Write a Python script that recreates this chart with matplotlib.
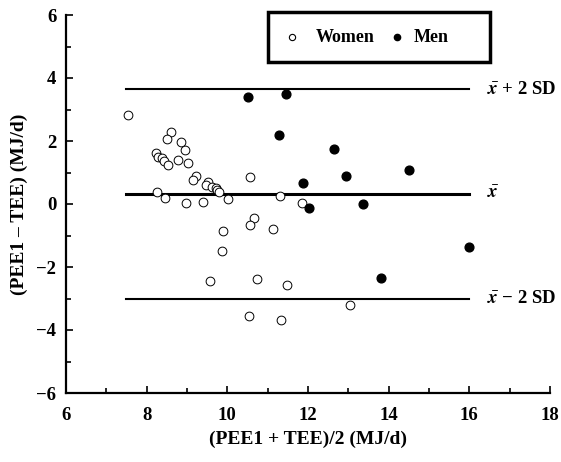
import numpy as np
import matplotlib
matplotlib.use("Agg")
import matplotlib.pyplot as plt
from matplotlib.patches import Rectangle

plt.rcParams['font.family'] = ['Liberation Serif', 'DejaVu Serif']
plt.rcParams['font.weight'] = 'bold'
plt.rcParams['axes.labelweight'] = 'bold'
plt.rcParams['mathtext.fontset'] = 'stix'

# women (open circles)
women_x = [7.53, 8.61, 8.50, 8.86, 8.96, 8.23, 8.28, 8.37, 8.44, 8.53, 8.77, 9.03,
           9.22, 9.16, 9.53, 9.48, 9.61, 9.71, 9.75, 9.79, 10.56, 8.26, 8.46, 8.97,
           9.39, 10.02, 11.31, 11.85, 10.66, 10.55, 11.12, 9.90, 9.86, 9.56, 10.74,
           11.49, 10.53, 11.32, 13.05]
women_y = [2.83, 2.30, 2.07, 1.96, 1.72, 1.61, 1.50, 1.45, 1.37, 1.24, 1.40, 1.29,
           0.90, 0.76, 0.71, 0.60, 0.55, 0.52, 0.44, 0.37, 0.85, 0.37, 0.20, 0.03,
           0.05, 0.15, 0.25, 0.02, -0.45, -0.66, -0.78, -0.85, -1.50, -2.43, -2.38,
           -2.56, -3.56, -3.68, -3.21]

# men (filled)
men_x = [10.52, 11.45, 11.27, 12.65, 11.88, 12.95, 14.50, 12.03, 13.37, 13.81, 15.99]
men_y = [3.40, 3.49, 2.18, 1.76, 0.67, 0.89, 1.07, -0.12, -0.01, -2.34, -1.37]

mean_diff = 0.32
sd_diff = 1.66
line_x = [7.5, 16.0]

fig = plt.figure(figsize=(5.61, 4.62), dpi=100)
ax = fig.add_axes([66/561, 1-393/462, (550-66)/561, (393-15)/462])

ax.plot(line_x, [mean_diff + 2*sd_diff]*2, color='black', lw=1.5)
ax.plot(line_x, [mean_diff]*2, color='black', lw=2.2)
ax.plot(line_x, [mean_diff - 2*sd_diff]*2, color='black', lw=1.5)

ax.plot(women_x, women_y, 'o', ms=6.3, mfc='white', mec='black', mew=0.7, ls='none')
ax.plot(men_x, men_y, 'o', ms=6.3, mfc='black', mec='black', ls='none')

lab_x = 16.45
ax.text(lab_x, mean_diff + 2*sd_diff, r'$\mathregular{\bar{\mathit{x}}}$ + 2 SD',
        fontsize=13.5, va='center', weight='bold')
ax.text(lab_x, mean_diff, r'$\mathregular{\bar{\mathit{x}}}$', fontsize=13.5, va='center')
ax.text(lab_x, mean_diff - 2*sd_diff, r'$\mathregular{\bar{\mathit{x}}}$ − 2 SD',
        fontsize=13.5, va='center', weight='bold')

ax.set_xlim(6, 18)
ax.set_ylim(-6, 6)
ax.set_xticks(np.arange(6, 19, 2))
ax.set_xticks(np.arange(7, 18, 2), minor=True)
ax.set_yticks(np.arange(-6, 7, 2))
ax.set_yticks(np.arange(-5, 6, 2), minor=True)
ax.tick_params(which='both', direction='in', width=1.2, labelsize=13.5)
ax.tick_params(which='major', length=5)
ax.tick_params(which='minor', length=3.5)
ax.tick_params(axis='x', pad=10)
ax.tick_params(axis='y', pad=7)
for s in ['top', 'right']:
    ax.spines[s].set_visible(False)
for s in ['left', 'bottom']:
    ax.spines[s].set_linewidth(1.6)

ax.set_xlabel('(PEE1 + TEE)/2 (MJ/d)', fontsize=14, labelpad=5)
ax.set_ylabel('(PEE1 – TEE) (MJ/d)', fontsize=14, labelpad=6)

# legend box
box = Rectangle((268/561, 1-62/462), (490-268)/561, (62-12)/462, transform=fig.transFigure,
                fill=False, ec='black', lw=2.5)
fig.patches.append(box)
fig.lines.append(plt.Line2D([292/561], [1-37/462], transform=fig.transFigure, marker='o',
                            ms=4.5, mfc='white', mec='black', mew=0.8))
fig.text(316/561, 1-37/462, 'Women', fontsize=13, va='center', weight='bold')
fig.lines.append(plt.Line2D([397/561], [1-37/462], transform=fig.transFigure, marker='o',
                            ms=4.5, mfc='black', mec='black'))
fig.text(414/561, 1-37/462, 'Men', fontsize=13, va='center', weight='bold')

fig.savefig('out.png', dpi=100)
